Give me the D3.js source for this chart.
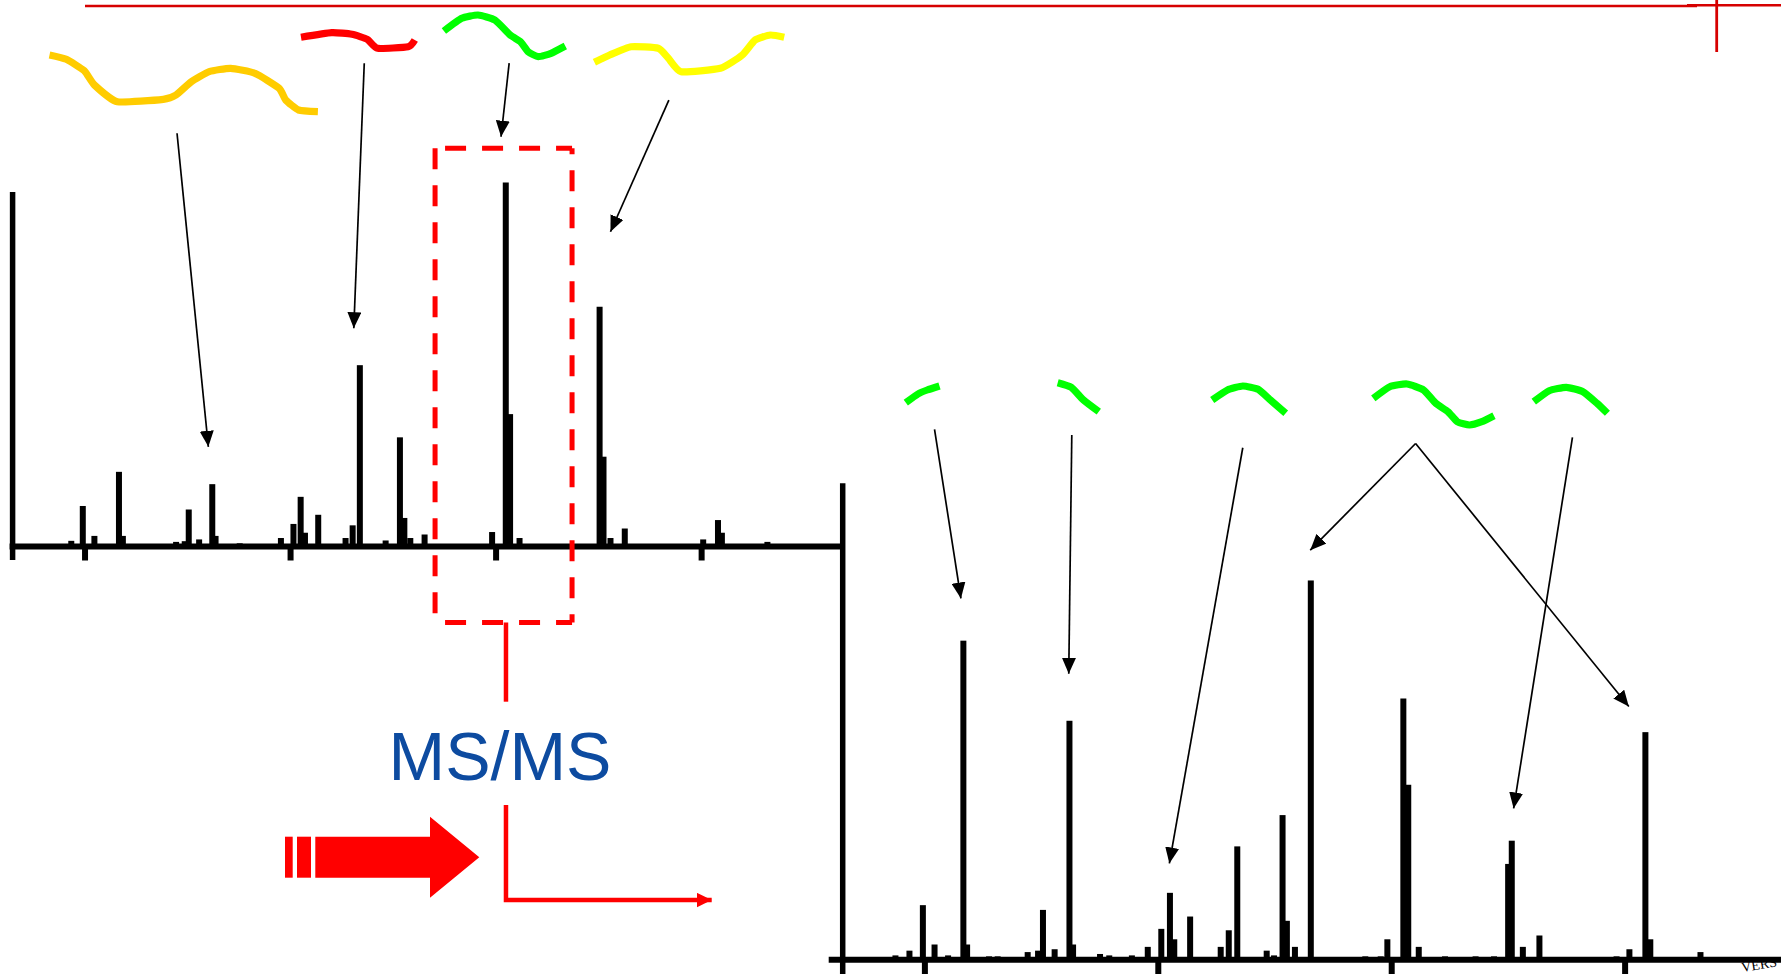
<!DOCTYPE html>
<html><head><meta charset="utf-8">
<script src="https://cdn.jsdelivr.net/npm/d3@7"></script>
<style>html,body{margin:0;padding:0;background:#fff;overflow:hidden}</style>
</head><body>
<svg id="chart" width="1781" height="974"></svg>
<script>
// ---------- data ----------
// MS1 (precursor) spectrum
const ms1Mz  = [387.1, 398.3, 409.6, 433.5, 437.3, 489.1, 497.5, 501.4, 511.5, 524.3, 527.5, 551.0, 591.1, 603.3, 610.3, 614.5, 627.4, 654.0, 660.9, 667.9, 693.0, 706.9, 711.2, 717.0, 730.9, 796.6, 809.9, 814.1, 823.3, 901.2, 905.0, 911.8, 925.7, 1002.0, 1016.4, 1020.2, 1064.5];
const ms1Int = [0.9, 10.8, 2.3, 20.5, 2.3, 0.6, 0.8, 9.8, 1.3, 17.0, 2.3, 0.2, 1.7, 5.7, 13.4, 3.2, 8.3, 1.7, 5.3, 50.8, 1.0, 30.3, 7.4, 1.7, 2.7, 3.4, 102.7, 36.9, 1.7, 67.4, 24.8, 1.7, 4.4, 1.3, 6.8, 3.2, 0.6];
const ms1Ticks = [400, 600, 800, 1000];
// MS/MS (product ion) spectrum
const ms2Mz  = [175.2, 187.2, 198.7, 208.7, 220.3, 233.4, 236.6, 255.4, 262.8, 288.5, 297.4, 301.6, 311.6, 324.3, 327.4, 350.5, 358.4, 377.8, 391.4, 403.0, 410.4, 414.1, 427.7, 453.9, 460.8, 468.1, 493.3, 499.6, 506.9, 510.6, 517.5, 531.1, 577.8, 591.0, 596.7, 610.4, 614.6, 623.6, 646.1, 672.3, 688.1, 700.2, 703.3, 712.8, 727.0, 793.1, 804.1, 817.8, 822.0, 865.0];
const ms2Int = [0.4, 1.4, 11.0, 2.7, 0.4, 66.8, 2.7, 0.2, 0.2, 1.1, 1.4, 10.0, 1.7, 49.9, 2.7, 0.7, 0.4, 0.4, 2.2, 6.0, 13.6, 3.8, 8.6, 2.2, 5.7, 23.4, 1.4, 0.4, 30.0, 7.7, 2.2, 79.5, 0.2, 0.2, 3.8, 54.6, 36.4, 2.2, 0.2, 0.2, 0.2, 19.7, 24.6, 2.2, 4.6, 0.2, 1.7, 47.5, 3.8, 1.1];
const ms2Ticks = [200, 400, 600, 800];
// selected precursor window (m/z) and precursor
const selWindow = [741.1, 874.4];
const selIntRange = [-22.3, 112.4];
const precursorMz = 810.1;
// annotation arrows [mzFrom, intFrom, mzTo, intTo]
const ms1Arrows = [[490.0,116.7,520.5,27.6],[672.2,136.6,662.0,61.3],[813.2,136.6,805.3,115.7],[968.6,126.1,911.8,88.7]];
const ms2Arrows = [[208.7,111.4,231.3,75.7],[326.3,110.2,323.7,59.8],[472.8,107.5,409.9,19.8],[620.9,108.4,530.6,85.9],[620.9,108.4,803.6,52.9],[755.3,109.7,704.9,31.4]];
const labelText = "MS/MS";
const watermarkText = "VERS";

// peptide squiggle glyphs (decorative drawings)
const glyphColors = ["#ffcc00","#ff0000","#00ff00","#ffff00","#00ff00","#00ff00","#00ff00","#00ff00","#00ff00"];
const glyphPaths = [
 [[49.5,55],[66.3,59.3],[84.2,70.7],[94.4,85],[117.3,101.7],[163.3,99.3],[176,95],[191.3,81.7],[209.2,71.7],[230.6,68.3],[255.1,73.3],[279.1,88.3],[285.7,100],[298.5,110],[317.9,111.7]],
 [[301,37.3],[331.6,32.7],[352,34.3],[367.3,39.3],[377.6,48.3],[408.2,46.7],[414.8,40]],
 [[443.9,31],[461.7,18.3],[478,15],[494.9,20],[510.2,35],[520.4,41.7],[528.1,51.7],[538.3,56.7],[551,53.3],[565.3,46]],
 [[594.4,62.3],[609.7,55],[631.1,46.7],[658.2,48.3],[668.4,58.3],[681.1,71.7],[720.4,68.3],[742.3,55],[755.1,40],[770.4,35],[784.2,37.3]],
 [[905.8,402.7],[918,394],[927.2,390],[939.5,386]],
 [[1057.7,382.7],[1071.2,387.3],[1083.5,400],[1098.8,411.7]],
 [[1212.2,400],[1227.5,390],[1242.8,386],[1258.1,389.3],[1270.4,400],[1285.7,413.3]],
 [[1373.3,398.3],[1389.8,386.7],[1407,384],[1423.5,390],[1435.8,403.3],[1448,411.7],[1457.3,421.7],[1469.5,425],[1481.8,421.7],[1494,415.7]],
 [[1533.8,401.7],[1549.2,390.7],[1566.3,387.3],[1582.9,391.7],[1597,403.3],[1607.4,413.3]]
];

// ---------- layout ----------
const svg = d3.select("#chart");
const BAR_W = 6;

const x1 = d3.scaleLinear().domain([330, 1140]).range([12.6, 845]);
const y1 = d3.scaleLinear().domain([0, 100]).range([544, 192]);
const x2 = d3.scaleLinear().domain([130, 934]).range([842.7, 1781]);
const y2 = d3.scaleLinear().domain([0, 100]).range([957.3, 483.3]);

const defs = svg.append("defs");
defs.append("marker").attr("id","ah").attr("markerUnits","userSpaceOnUse")
  .attr("markerWidth",17).attr("markerHeight",14).attr("refX",16).attr("refY",7)
  .attr("orient","auto")
  .append("path").attr("d","M0,0L16,7L0,14Z").attr("fill","#000");
defs.append("marker").attr("id","ahr").attr("markerUnits","userSpaceOnUse")
  .attr("markerWidth",16).attr("markerHeight",15).attr("refX",15).attr("refY",7.3)
  .attr("orient","auto")
  .append("path").attr("d","M0,0L15,7.3L0,14.6Z").attr("fill","#ff0000");

// top red rule
svg.append("line").attr("x1",85).attr("x2",1697).attr("y1",6).attr("y2",6)
  .attr("stroke","#d60000").attr("stroke-width",2.6);
svg.append("line").attr("x1",1687).attr("x2",1781).attr("y1",5.3).attr("y2",5.3)
  .attr("stroke","#d60000").attr("stroke-width",2.6);
svg.append("line").attr("x1",1716.7).attr("x2",1716.7).attr("y1",0).attr("y2",52)
  .attr("stroke","#d60000").attr("stroke-width",2.8);

// glyphs
const gline = d3.line().curve(d3.curveCardinal.tension(0.5));
svg.append("g").selectAll("path").data(glyphPaths).join("path")
  .attr("d", d => gline(d)).attr("fill","none")
  .attr("stroke",(d,i)=>glyphColors[i]).attr("stroke-width",7.2)
  .attr("stroke-linejoin","round");

function drawSpectrum(mz, inten, xs, ys, ticks, axisLeftExt, yAxisBottom, tickLen) {
  const g = svg.append("g");
  const base = ys(0) + 2.5;
  g.selectAll("rect").data(mz).join("rect")
    .attr("x", d => xs(d) - BAR_W/2)
    .attr("y", (d,i) => ys(inten[i]))
    .attr("width", BAR_W)
    .attr("height", (d,i) => base - ys(inten[i]))
    .attr("fill","#000");
  const ax = g.append("g").attr("transform",`translate(0,${base})`)
    .call(d3.axisBottom(xs).tickValues(ticks).tickFormat("").tickSizeInner(tickLen).tickSizeOuter(0));
  const r = xs.range();
  ax.select(".domain").attr("d",`M${r[0]-axisLeftExt},0H${r[1]}`)
    .attr("stroke","#000").attr("stroke-width",6);
  ax.selectAll(".tick line").attr("stroke","#000").attr("stroke-width",6);
  g.append("line").attr("x1",r[0]).attr("x2",r[0])
    .attr("y1",ys(100)).attr("y2",yAxisBottom)
    .attr("stroke","#000").attr("stroke-width",5.5);
}
drawSpectrum(ms1Mz, ms1Int, x1, y1, ms1Ticks, 3, 560, 14);
drawSpectrum(ms2Mz, ms2Int, x2, y2, ms2Ticks, 14, 974, 18);

// selection window (dashed box)
const bx0 = x1(selWindow[0]), bx1 = x1(selWindow[1]);
const by0 = y1(selIntRange[1]), by1 = y1(selIntRange[0]);
const boxG = svg.append("g").attr("stroke","#ff0000").attr("stroke-width",5)
  .attr("fill","none").attr("stroke-dasharray","21,16");
boxG.append("line").attr("x1",bx0).attr("x2",bx1).attr("y1",by0).attr("y2",by0).attr("stroke-dashoffset",27);
boxG.append("line").attr("x1",bx0).attr("x2",bx0).attr("y1",by0).attr("y2",by1);
boxG.append("line").attr("x1",bx1).attr("x2",bx1).attr("y1",by0).attr("y2",by1).attr("stroke-dashoffset",15);
boxG.append("line").attr("x1",bx1).attr("x2",bx0).attr("y1",by1).attr("y2",by1).attr("stroke-dashoffset",5);

// connector & label
const cx = x1(precursorMz);
svg.append("line").attr("x1",cx).attr("x2",cx).attr("y1",by1).attr("y2",701.7)
  .attr("stroke","#ff0000").attr("stroke-width",4.5);
svg.append("path").attr("d",`M${cx},805V900H711.7`).attr("fill","none")
  .attr("stroke","#ff0000").attr("stroke-width",4.5).attr("marker-end","url(#ahr)");
svg.append("text").attr("x",500).attr("y",780).attr("text-anchor","middle")
  .attr("font-family","'Liberation Sans', Arial, sans-serif").attr("font-size",68)
  .attr("fill","#0d4ba0").text(labelText);

// big red arrow
svg.append("rect").attr("x",285).attr("y",836.7).attr("width",7.7).attr("height",41).attr("fill","#ff0000");
svg.append("rect").attr("x",297).attr("y",836.7).attr("width",14).attr("height",41).attr("fill","#ff0000");
svg.append("path").attr("d","M315.3,836.7H430V816.7L479.3,857.2L430,897.7V877.7H315.3Z").attr("fill","#ff0000");

// annotation arrows
svg.append("g").selectAll("line").data(ms1Arrows).join("line")
  .attr("x1",d=>x1(d[0])).attr("y1",d=>y1(d[1])).attr("x2",d=>x1(d[2])).attr("y2",d=>y1(d[3]))
  .attr("stroke","#000").attr("stroke-width",1.7).attr("marker-end","url(#ah)");
svg.append("g").selectAll("line").data(ms2Arrows).join("line")
  .attr("x1",d=>x2(d[0])).attr("y1",d=>y2(d[1])).attr("x2",d=>x2(d[2])).attr("y2",d=>y2(d[3]))
  .attr("stroke","#000").attr("stroke-width",1.7).attr("marker-end","url(#ah)");

// watermark fragment
svg.append("text").attr("transform","translate(1742,972) rotate(-9)")
  .attr("font-family","'Liberation Serif', 'Times New Roman', serif").attr("font-size",14)
  .attr("fill","#000").text(watermarkText);
</script>
</body></html>
